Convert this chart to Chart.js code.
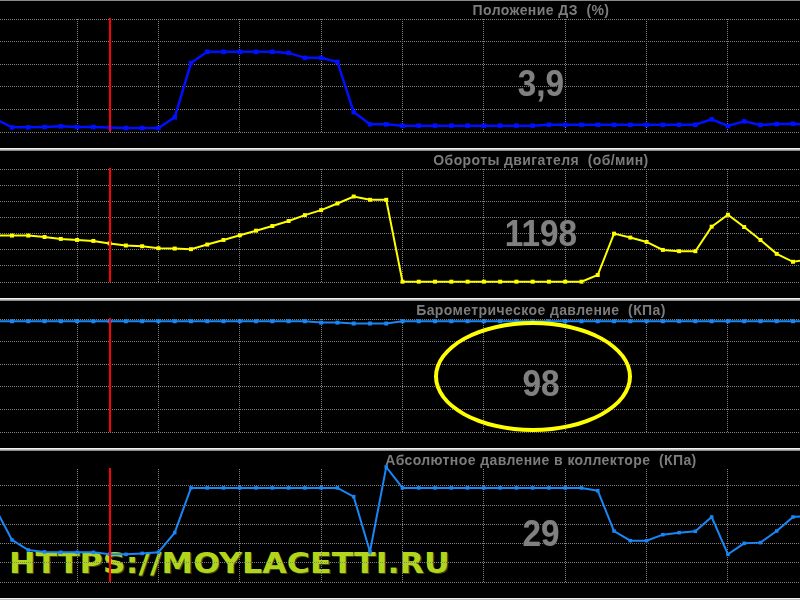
<!DOCTYPE html>
<html>
<head>
<meta charset="utf-8">
<script src="https://cdn.jsdelivr.net/npm/chart.js@4/dist/chart.umd.min.js"></script>
<style>
  body { margin: 0; width: 800px; height: 600px; overflow: hidden; background: #000; position: relative; font-family: "Liberation Sans", Arial, sans-serif; }
  .panel { position: absolute; left: 0; width: 800px; height: 150px; background: #000; overflow: hidden; }
  .panel canvas { position: absolute; left: 0; top: 0; z-index: 2; }
  .sep { position: absolute; left: 0; width: 800px; height: 3px; z-index: 5; background: linear-gradient(#f2f2f2 0, #f2f2f2 33%, #c0c0c0 34%, #c0c0c0 66%, #8a8a8a 67%, #8a8a8a 100%); }
  .title { position: absolute; left: 541px; top: 5px; transform: translateX(-50%); color: #7c7c7c; font-weight: bold; font-size: 14px; line-height: 14px; letter-spacing: 0.4px; white-space: pre; z-index: 3; }
  .readout { position: absolute; left: 541px; top: 85px; transform: translate(-50%, -50%) scaleX(0.9); color: #808080; font-weight: bold; font-size: 37px; line-height: 37px; white-space: pre; z-index: 3; text-shadow: 0 0 1px #2a2a2a; }
  .mark { position: absolute; left: 9px; top: 101px; color: #b2d41a; font-family: "DejaVu Sans", sans-serif; font-weight: bold; font-size: 29px; line-height: 29px; white-space: pre; transform-origin: 0 0; z-index: 1; text-shadow: 1px 1px 0 #3a4a08; }
  .ring { position: absolute; left: 434px; top: 23px; width: 198px; height: 111px; box-sizing: border-box; border: 4px solid #ffff00; border-radius: 50%; z-index: 4; }
</style>
</head>
<body>
<div class="panel" style="top:-2px"><div class="sep" style="top:0;background:#8a8a8a"></div><canvas id="tpsChart" width="800" height="150"></canvas>
  <div class="title">Положение ДЗ  (%)</div><div class="readout">3,9</div></div>
<div class="panel" style="top:148px"><div class="sep" style="top:0"></div><canvas id="rpmChart" width="800" height="150"></canvas>
  <div class="title">Обороты двигателя  (об/мин)</div><div class="readout">1198</div></div>
<div class="panel" style="top:298px"><div class="sep" style="top:0"></div><canvas id="baroChart" width="800" height="150"></canvas>
  <div class="title">Барометрическое давление  (КПа)</div><div class="readout">98</div><div class="ring"></div></div>
<div class="panel" style="top:448px"><div class="sep" style="top:0"></div><canvas id="mapChart" width="800" height="150"></canvas>
  <div class="mark" id="mark">HTTPS://MOYLACETTI.RU</div>
  <div class="title">Абсолютное давление в коллекторе  (КПа)</div><div class="readout">29</div></div>
<div class="sep" style="top:598px"></div>
<script>
// sample numbers (x axis), cursor sits on sample 7
const samples = [0,1,2,3,4,5,6,7,8,9,10,11,12,13,14,15,16,17,18,19,20,21,22,23,24,25,26,27,28,29,30,31,32,33,34,35,36,37,38,39,40,41,42,43,44,45,46,47,48,49,50];
const cursorSample = 7;
const timeGrid = [5,10,15,20,25,30,35,40,45];

// throttle position, %
const tpsValues = [11.3,4.1,4.1,4.4,5.0,4.4,4.4,3.9,3.5,3.5,3.5,13,61,71,71,71,71,71,70,65.6,65.6,62,17.6,6.8,6.8,
  5.6,5.6,5.6,5.6,5.6,5.6,5.6,5.6,5.6,6.4,6.4,6.4,6.4,6.4,6.4,6.4,6.4,6.4,6.4,11.2,5.3,9.4,6.2,7,7.3,6.4];
const tpsGrid = [0,20,40,60,80,100];

// engine speed, rpm
const rpmValues = [1319,1319,1319,1297,1267,1251,1236,1198,1165,1154,1123,1118,1108,1180,1251,1323,1395,1467,1544,1636,1713,1816,1924,1873,1873,
  605,605,605,605,605,605,605,605,605,605,605,605,708,1349,1288,1220,1097,1077,1077,1457,1642,1451,1251,1036,913,950];
const rpmGrid = [600,850,1100,1350,1600,1850,2100,2350];

// barometric pressure, kPa
const baroValues = [98,98,98,98,98,98,98,98,98,98,98,98,98,98,98,98,98,98,98,98,96.8,96.8,96,96,96,
  98,98,98,98,98,98,98,98,98,98,98,98,98,98,98,98,98,98,98,98,98,98,98,98,98,98];
const kpaGrid = [0,20,40,60,80,100];

// manifold absolute pressure, kPa
const mapValues = [76,43.8,33.3,31.3,30.9,30.9,30.9,29,28.8,29.8,30.9,51.4,98,98,98,98,98,98,98,98,98,98,88.9,31.6,119.8,
  98,98,98,98,98,98,98,98,98,98,98,98,95.1,53.1,43,43,49.3,51.4,52.8,67.7,28.8,40.3,41,53.1,67.7,68.7];

// red cursor line
const cursorPlugin = {
    id: 'cursor',
    afterDatasetsDraw(chart) {
        var ctx = chart.ctx;
        var x = Math.round(chart.scales.x.getPixelForValue(cursorSample)) - 1;
        ctx.save();
        ctx.fillStyle = '#ff0000';
        ctx.fillRect(x, chart.chartArea.top - 1, 2, chart.chartArea.bottom - chart.chartArea.top + 1);
        ctx.restore();
    }
};

function makePanel(id, values, color, lineWidth, pointRadius, yMin, yMax, yGrid) {
    var ctx = document.getElementById(id).getContext('2d');
    return new Chart(ctx, {
        type: 'line',
        data: {
            datasets: [{
                data: samples.map((s, i) => ({ x: s, y: values[i] })),
                borderColor: color,
                backgroundColor: color,
                borderWidth: lineWidth,
                pointStyle: 'rect',
                pointRadius: pointRadius,
                pointBorderWidth: 0,
                pointBackgroundColor: color,
                tension: 0,
                clip: false
            }]
        },
        options: {
            responsive: false,
            animation: false,
            layout: { autoPadding: false, padding: { top: 21, bottom: 16, left: 0, right: 0 } },
            scales: {
                x: {
                    type: 'linear',
                    min: 0.2624,
                    max: 49.43,
                    afterBuildTicks: s => { s.ticks = timeGrid.map(v => ({ value: v })); },
                    afterFit: s => { s.height = 0; },
                    ticks: { display: false },
                    border: { display: false, dash: [1, 1] },
                    grid: { color: '#808080', lineWidth: 1, drawTicks: false }
                },
                y: {
                    min: yMin,
                    max: yMax,
                    afterBuildTicks: s => { s.ticks = yGrid.map(v => ({ value: v })); },
                    afterFit: s => { s.width = 0; },
                    ticks: { display: false },
                    border: { display: false, dash: [1, 1] },
                    grid: { color: '#808080', lineWidth: 1, drawTicks: false }
                }
            },
            plugins: {
                legend: { display: false },
                tooltip: { enabled: false }
            }
        },
        plugins: [cursorPlugin]
    });
}

makePanel('tpsChart', tpsValues, '#0010ff', 2.5, 3.2, 0, 100, tpsGrid);
makePanel('rpmChart', rpmValues, '#ffff00', 2, 2.8, 600, 2350, rpmGrid);
makePanel('baroChart', baroValues, '#1a86f5', 2, 2.8, 0, 100, kpaGrid);
makePanel('mapChart', mapValues, '#1a86f5', 2, 2.5, 0, 117.7, kpaGrid);

// stretch the watermark to its width in the screenshot
var mark = document.getElementById('mark');
mark.style.transform = 'scaleX(' + (441 / mark.offsetWidth) + ')';
</script>
</body>
</html>
